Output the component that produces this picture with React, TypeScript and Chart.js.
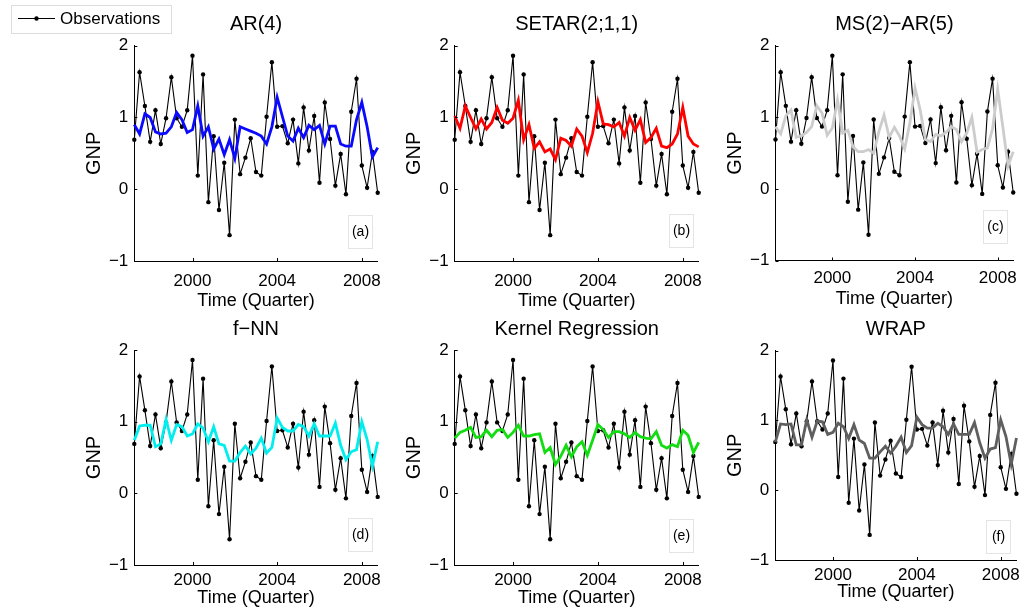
import React, { useEffect, useRef } from "react";
import { Chart, registerables } from "chart.js";

Chart.register(...registerables);

const FONT = "'Liberation Sans', Arial, Helvetica, sans-serif";

// Quarterly time axis: 1997Q2 .. 2008Q4
const quarterLabels: string[] = [];
for (let yr = 1997; yr <= 2008; yr++) {
  for (let q = 1; q <= 4; q++) {
    if (yr === 1997 && q === 1) continue;
    quarterLabels.push(`${yr}Q${q}`);
  }
}

const xTickYears = [2000, 2004, 2008];
const yTicks = [-1, 0, 1, 2];

const observations = [
  0.69, 1.63, 1.16, 0.66, 1.1, 0.63, 0.99, 1.56, 0.99, 0.87,
  1.1, 1.86, 0.19, 1.6, -0.18, 0.74, -0.29, 0.37, -0.64, 0.97,
  0.21, 0.44, 0.71, 0.24, 0.19, 1.01, 1.77, 0.87, 0.88, 0.64,
  0.97, 0.36, 1.14, 0.54, 1.02, 0.09, 1.21, 0.7, 0.05, 0.49,
  -0.07, 1.08, 1.54, 0.33, 0.02, 0.52, -0.05,
];

const ar4 = [
  0.9, 0.77, 1.05, 1.0, 0.8, 0.77, 0.78, 0.87, 1.07, 0.97,
  0.79, 0.83, 1.16, 0.74, 0.87, 0.56, 0.7, 0.48, 0.69, 0.43,
  0.87, 0.84, 0.81, 0.78, 0.74, 0.63, 0.87, 1.28, 1.01, 0.74,
  0.67, 0.85, 0.72, 0.89, 0.83, 0.89, 0.63, 0.88, 0.88, 0.63,
  0.6, 0.6, 0.97, 1.21, 0.87, 0.45, 0.58,
];

const setar = [
  1.02, 0.85, 1.16, 1.0, 0.84, 0.98, 0.84, 0.93, 1.14, 0.96,
  0.92, 0.99, 1.24, 0.69, 0.9, 0.57, 0.66, 0.52, 0.56, 0.41,
  0.71, 0.68, 0.6, 0.84, 0.74, 0.51, 0.78, 1.22, 0.91, 0.9,
  0.87, 0.93, 0.74, 1.0, 0.82, 0.97, 0.65, 0.72, 0.85, 0.6,
  0.58, 0.63, 0.77, 1.14, 0.74, 0.63, 0.59,
];

const msar = [
  0.87, 0.77, 1.02, 1.1, 0.72, 0.74, 0.79, 0.87, 1.16, 1.06,
  0.75, 0.85, 1.24, 0.78, 0.82, 0.59, 0.52, 0.52, 0.55, 0.5,
  0.8, 1.03, 0.72, 0.86, 0.74, 0.56, 0.92, 1.41, 1.1, 0.69,
  0.66, 0.76, 0.74, 0.79, 0.87, 0.83, 0.66, 0.78, 1.0, 0.51,
  0.55, 0.57, 0.84, 1.39, 0.86, 0.32, 0.52,
];

const fnn = [
  0.74, 0.94, 0.95, 0.95, 0.65, 0.69, 1.03, 0.74, 0.96, 0.93,
  0.8, 0.83, 0.97, 0.91, 0.72, 0.93, 0.69, 0.67, 0.45, 0.45,
  0.57, 0.66, 0.55, 0.63, 0.77, 0.56, 0.64, 1.05, 0.92, 0.87,
  0.87, 0.96, 0.93, 0.8, 0.97, 0.8, 0.8, 0.8, 0.98, 0.67,
  0.47, 0.58, 0.61, 1.0, 0.75, 0.38, 0.72,
];

const kernel = [
  0.77, 0.85, 0.88, 0.92, 0.78, 0.79, 0.88, 0.79, 0.88, 0.89,
  0.78, 0.85, 0.95, 0.8, 0.8, 0.82, 0.83, 0.57, 0.64, 0.4,
  0.52, 0.67, 0.51, 0.65, 0.72, 0.53, 0.74, 0.96, 0.89, 0.78,
  0.86, 0.86, 0.83, 0.78, 0.85, 0.79, 0.77, 0.76, 0.86, 0.67,
  0.63, 0.68, 0.65, 0.88, 0.81, 0.57, 0.71,
];

const wrap = [
  0.69, 0.95, 0.94, 0.95, 0.65, 0.65, 1.01, 0.76, 0.99, 0.98,
  0.8, 0.83, 0.96, 0.91, 0.74, 0.94, 0.72, 0.67, 0.46, 0.46,
  0.55, 0.63, 0.53, 0.63, 0.76, 0.54, 0.64, 1.05, 0.94, 0.89,
  0.89, 0.96, 0.91, 0.8, 0.95, 0.8, 0.8, 0.8, 0.97, 0.68,
  0.46, 0.59, 0.61, 1.01, 0.77, 0.37, 0.75,
];

const panelTitles = ["AR(4)", "SETAR(2;1,1)", "MS(2)\u2212AR(5)", "f\u2212NN", "Kernel Regression", "WRAP"];
const panelTags = ["(a)", "(b)", "(c)", "(d)", "(e)", "(f)"];
const panelSeries = [ar4, setar, msar, fnn, kernel, wrap];
const panelColors = ["#0a0aff", "#ff0000", "#cccccc", "#00eeee", "#11dd11", "#5f5f5f"];

// Layout (page pixels) of each plot area
const layouts = [
  { left: 134.3, top: 45.7, right: 377.7, bottom: 261, xH: 52, tickPad: 10, titlePad: 1, tagBottom: 13, legend: true },
  { left: 454.7, top: 45.7, right: 698.7, bottom: 261, xH: 52, tickPad: 10, titlePad: 1, tagBottom: 14, legend: false },
  { left: 775.5, top: 45.7, right: 1019.3, bottom: 260.5, xH: 50, tickPad: 8, titlePad: 1, tagBottom: 18, legend: false },
  { left: 134.3, top: 350, right: 377.7, bottom: 565, xH: 45, tickPad: 5, titlePad: 1.5, tagBottom: 14, legend: false },
  { left: 454.7, top: 350, right: 698.7, bottom: 565, xH: 45, tickPad: 5, titlePad: 1.5, tagBottom: 13, legend: false },
  { left: 775.3, top: 350.7, right: 1019.3, bottom: 560, xH: 45, tickPad: 5, titlePad: 2, tagBottom: 7, legend: false },
];

const W = 1025;
const H = 612;
const Y_AXIS_W = 60;

const decorPlugin = {
  id: "decor",
  afterDraw(chart: any, _args: any, opts: any) {
    const { ctx, chartArea: ca, scales } = chart;
    const xs = scales.x;
    const ys = scales.y;
    ctx.save();
    // inward tick marks
    ctx.strokeStyle = "#000";
    ctx.lineWidth = 1;
    ctx.beginPath();
    xTickYears.forEach((yr) => {
      const idx = quarterLabels.indexOf(`${yr}Q1`);
      const px = Math.round(xs.getPixelForValue(idx)) + 0.5;
      ctx.moveTo(px, ca.bottom);
      ctx.lineTo(px, ca.bottom - 3);
    });
    yTicks.forEach((v) => {
      const py = Math.round(ys.getPixelForValue(v)) + 0.5;
      ctx.moveTo(ca.left, py);
      ctx.lineTo(ca.left + 3, py);
    });
    ctx.stroke();

    // panel title
    ctx.fillStyle = "#000";
    ctx.font = `20px ${FONT}`;
    ctx.textAlign = "center";
    ctx.textBaseline = "middle";
    ctx.fillText(opts.title, (ca.left + ca.right) / 2, ca.top - 21);

    // tag box
    const bw = 24;
    const bh = 33;
    const bx = Math.round(ca.right - 6 - bw) + 0.5;
    const by = Math.round(ca.bottom - opts.tagBottom - bh) + 0.5;
    ctx.fillStyle = "#fff";
    ctx.fillRect(bx, by, bw, bh);
    ctx.strokeStyle = "#e4e4e4";
    ctx.strokeRect(bx, by, bw, bh);
    ctx.fillStyle = "#000";
    ctx.font = `14px ${FONT}`;
    ctx.fillText(opts.tag, bx + bw / 2, by + bh / 2);

    // legend
    if (opts.legend) {
      ctx.strokeStyle = "#dddddd";
      ctx.strokeRect(11.5, 5.5, 160, 28);
      ctx.strokeStyle = "#000";
      ctx.beginPath();
      ctx.moveTo(18, 18.5);
      ctx.lineTo(55, 18.5);
      ctx.stroke();
      ctx.fillStyle = "#000";
      ctx.beginPath();
      ctx.arc(36.5, 18.5, 2.2, 0, Math.PI * 2);
      ctx.fill();
      ctx.font = `17px ${FONT}`;
      ctx.textAlign = "left";
      ctx.fillText(opts.legendText, 60, 19);
    }
    ctx.restore();
  },
};

function Panel({ i }: { i: number }) {
  const ref = useRef<HTMLCanvasElement>(null);
  useEffect(() => {
    const L = layouts[i];
    const chart = new Chart(ref.current as HTMLCanvasElement, {
      type: "line",
      data: {
        labels: quarterLabels,
        datasets: [
          {
            label: panelTitles[i],
            data: panelSeries[i],
            borderColor: panelColors[i],
            borderWidth: 2.8,
            pointRadius: 0,
            tension: 0,
            fill: false,
            order: 0,
            clip: false as any,
          },
          {
            label: "Observations",
            data: observations,
            borderColor: "#000",
            borderWidth: 1.1,
            pointRadius: 2.2,
            pointBackgroundColor: "#000",
            pointBorderColor: "#000",
            pointBorderWidth: 0,
            tension: 0,
            fill: false,
            order: 1,
            clip: false as any,
          },
        ],
      },
      options: {
        responsive: false,
        animation: false,
        devicePixelRatio: 1,
        layout: {
          padding: {
            left: L.left - Y_AXIS_W,
            top: L.top,
            right: W - L.right,
            bottom: H - L.bottom - L.xH,
          },
        },
        plugins: {
          legend: { display: false },
          tooltip: { enabled: false },
          title: { display: false },
          decor: {
            title: panelTitles[i],
            tag: panelTags[i],
            tagBottom: L.tagBottom,
            legend: L.legend,
            legendText: "Observations",
          },
        } as any,
        scales: {
          x: {
            type: "category",
            offset: false,
            grid: { display: true, drawOnChartArea: false, drawTicks: false },
            border: { display: true, color: "#000", width: 1 },
            ticks: {
              autoSkip: false,
              maxRotation: 0,
              minRotation: 0,
              padding: L.tickPad,
              color: "#000",
              font: { family: FONT, size: 17 },
              callback: (_v: any, idx: number) => {
                const lab = quarterLabels[idx];
                const yr = parseInt(lab.slice(0, 4), 10);
                return lab.endsWith("Q1") && xTickYears.includes(yr) ? String(yr) : null;
              },
            },
            title: {
              display: true,
              text: "Time (Quarter)",
              color: "#000",
              font: { family: FONT, size: 18 },
              padding: { top: 0, bottom: L.titlePad },
            },
            afterFit: (s: any) => {
              s.height = L.xH;
            },
          },
          y: {
            type: "linear",
            min: -1,
            max: 2,
            afterBuildTicks: (s: any) => {
              s.ticks = yTicks.map((v) => ({ value: v }));
            },
            grid: { display: true, drawOnChartArea: false, drawTicks: false },
            border: { display: true, color: "#000", width: 1 },
            ticks: {
              padding: 6,
              color: "#000",
              font: { family: FONT, size: 17 },
              callback: (v: any) => (v < 0 ? "\u2212" + Math.abs(v) : String(v)),
            },
            title: {
              display: true,
              text: "GNP",
              color: "#000",
              font: { family: FONT, size: 20 },
              padding: { top: 8, bottom: 0 },
            },
            afterFit: (s: any) => {
              s.width = Y_AXIS_W;
            },
          },
        },
      } as any,
      plugins: [decorPlugin as any],
    });
    return () => chart.destroy();
  }, [i]);
  return (
    <canvas
      ref={ref}
      width={W}
      height={H}
      style={{ position: "absolute", left: 0, top: 0, width: W, height: H }}
    />
  );
}

export default function App() {
  return (
    <div style={{ position: "absolute", left: 0, top: 0, width: W, height: H, background: "#fff", overflow: "hidden" }}>
      {panelTitles.map((_t, i) => (
        <Panel key={i} i={i} />
      ))}
    </div>
  );
}
